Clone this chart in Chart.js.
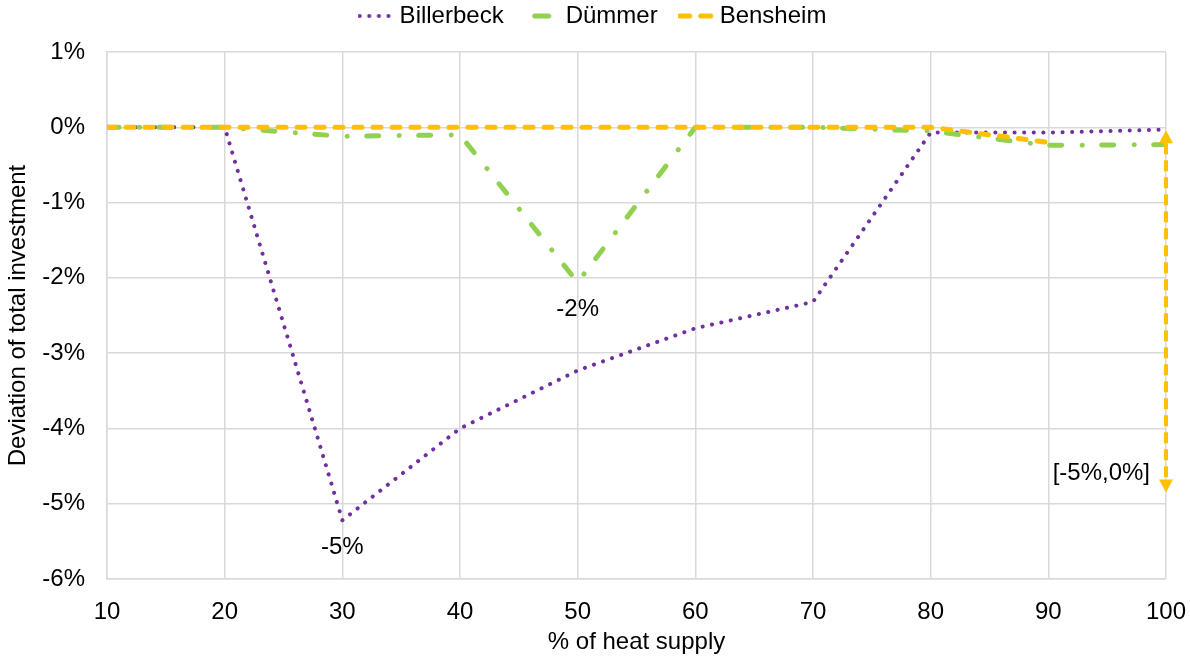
<!DOCTYPE html>
<html>
<head>
<meta charset="utf-8">
<script src="https://cdn.jsdelivr.net/npm/chart.js@4/dist/chart.umd.min.js"></script>
<style>
  html, body { margin: 0; padding: 0; background: #ffffff; }
  #wrap { position: relative; width: 1190px; height: 657px; }
</style>
</head>
<body>
<div id="wrap"><canvas id="c"></canvas></div>
<script>
// ---- data ----
const heatSupply = [10, 20, 30, 40, 50, 60, 70, 80, 90, 100];
const billerbeck = [0, 0, -5.22, -4.0, -3.23, -2.67, -2.32, -0.07, -0.07, -0.03];
const duemmer    = [0, 0, -0.12, -0.1, -2.06, 0, 0, -0.05, -0.24, -0.23];
const bensheim   = [0, 0, 0, 0, 0, 0, 0, 0, -0.2, null];
const seriesNames = ['Billerbeck', 'Dümmer', 'Bensheim'];
const yTicks = [1, 0, -1, -2, -3, -4, -5, -6];
const xTicks = [10, 20, 30, 40, 50, 60, 70, 80, 90, 100];
// annotations
const pointLabels = [ { x: 30, y: -5.22, text: '-5%' }, { x: 50, y: -2.06, text: '-2%' } ];
const rangeArrow = { x: 100, yFrom: -0.04, yTo: -4.85, text: '[-5%,0%]', textY: -4.6 };

const PURPLE = '#7030A0', GREEN = '#92D050', ORANGE = '#FFC000';
const FONT = '"Liberation Sans", Arial, sans-serif';
const FS = 24;

function toXY(arr) { return heatSupply.map((x, i) => ({ x: x, y: arr[i] })); }

function legendImg(color, dash, lw) {
  const c = document.createElement('canvas');
  c.width = 36; c.height = 8;
  const g = c.getContext('2d');
  g.strokeStyle = color; g.lineWidth = lw; g.lineCap = 'round';
  g.setLineDash(dash);
  g.beginPath(); g.moveTo(2, 4); g.lineTo(34, 4); g.stroke();
  return c;
}
const legDots = legendImg(PURPLE, [0.1, 9.5], 4);
const legDashDot = (function () {
  const c = document.createElement('canvas'); c.width = 36; c.height = 8;
  const g = c.getContext('2d'); g.strokeStyle = GREEN; g.lineWidth = 5; g.lineCap = 'round';
  g.beginPath(); g.moveTo(11, 4); g.lineTo(25, 4); g.stroke(); return c;
})();
const legDash = legendImg(ORANGE, [10, 11], 5);

const annotPlugin = {
  id: 'annot',
  afterDatasetsDraw(chart) {
    const ctx = chart.ctx, xs = chart.scales.x, ys = chart.scales.y;
    ctx.save();
    ctx.fillStyle = '#000'; ctx.font = FS + 'px ' + FONT;
    ctx.textAlign = 'center'; ctx.textBaseline = 'middle';
    pointLabels.forEach(p => {
      ctx.fillText(p.text, xs.getPixelForValue(p.x), ys.getPixelForValue(p.y) + 27);
    });
    // range arrow
    const ax = xs.getPixelForValue(rangeArrow.x);
    const yTop = ys.getPixelForValue(rangeArrow.yFrom);
    const yBot = ys.getPixelForValue(rangeArrow.yTo);
    const head = 13, hw = 7;
    ctx.strokeStyle = ORANGE; ctx.fillStyle = ORANGE; ctx.lineWidth = 4;
    ctx.setLineDash([11, 6]);
    ctx.beginPath(); ctx.moveTo(ax, yTop + head); ctx.lineTo(ax, yBot - head); ctx.stroke();
    ctx.setLineDash([]);
    ctx.beginPath(); ctx.moveTo(ax, yTop); ctx.lineTo(ax - hw, yTop + head); ctx.lineTo(ax + hw, yTop + head); ctx.closePath(); ctx.fill();
    ctx.beginPath(); ctx.moveTo(ax, yBot); ctx.lineTo(ax - hw, yBot - head); ctx.lineTo(ax + hw, yBot - head); ctx.closePath(); ctx.fill();
    ctx.fillStyle = '#000'; ctx.textAlign = 'right';
    ctx.fillText(rangeArrow.text, ax - 16, ys.getPixelForValue(rangeArrow.textY));
    ctx.restore();
  }
};

new Chart(document.getElementById('c'), {
  type: 'line',
  data: {
    datasets: [
      { label: seriesNames[0], data: toXY(billerbeck), borderColor: PURPLE, backgroundColor: PURPLE,
        borderWidth: 4, borderDash: [0.1, 9.5], borderCapStyle: 'round', pointRadius: 0, tension: 0, order: 3 },
      { label: seriesNames[1], data: toXY(duemmer), borderColor: GREEN, backgroundColor: GREEN,
        borderWidth: 5, borderDash: [12, 20.5, 0.1, 19.4], borderCapStyle: 'round', pointRadius: 0, tension: 0, order: 2 },
      { label: seriesNames[2], data: toXY(bensheim), borderColor: ORANGE, backgroundColor: ORANGE,
        borderWidth: 5, borderDash: [8, 11], borderCapStyle: 'round', pointRadius: 0, tension: 0, order: 1 }
    ]
  },
  options: {
    responsive: true, maintainAspectRatio: false, animation: false,
    layout: { padding: { left: 0, right: 0, top: -22, bottom: 0 } },
    font: { family: FONT },
    plugins: {
      tooltip: { enabled: false },
      subtitle: { display: true, text: '', position: 'top', weight: 500, font: { size: 10 }, padding: { top: 1, bottom: 1 } },
      legend: {
        position: 'top',
        labels: {
          font: { family: FONT, size: FS }, color: '#000', usePointStyle: true, pointStyleWidth: 24,
          padding: 26,
          generateLabels(chart) {
            const imgs = [legDots, legDashDot, legDash];
            return chart.data.datasets.map((d, i) => ({
              text: d.label, pointStyle: imgs[i], datasetIndex: i, fillStyle: d.borderColor,
              strokeStyle: d.borderColor, lineWidth: 0, hidden: false, fontColor: '#000'
            }));
          }
        }
      }
    },
    scales: {
      x: {
        type: 'linear', min: 10, max: 100,
        afterBuildTicks(s) { s.ticks = xTicks.map(v => ({ value: v })); },
        afterFit(s) { s.height = 78; s.paddingRight = 24; },
        grid: { color: '#d9d9d9', lineWidth: 1.5, drawTicks: false },
        border: { color: '#d9d9d9', width: 1.5 },
        ticks: { font: { family: FONT, size: FS }, color: '#000', padding: 19, maxRotation: 0 },
        title: { display: true, text: '% of heat supply', font: { family: FONT, size: FS }, color: '#000', padding: { top: 2, bottom: 0 } }
      },
      y: {
        type: 'linear', min: -6, max: 1,
        afterBuildTicks(s) { s.ticks = yTicks.map(v => ({ value: v })); },
        afterFit(s) { s.width = 107; },
        grid: { color: '#d9d9d9', lineWidth: 1.5, drawTicks: false },
        border: { color: '#d9d9d9', width: 1.5 },
        ticks: { font: { family: FONT, size: FS }, color: '#000', padding: 22, callback: v => v + '%' },
        title: { display: true, text: 'Deviation of total investment', font: { family: FONT, size: FS }, color: '#000', padding: { top: 4, bottom: 0 } }
      }
    }
  },
  plugins: [annotPlugin]
});
</script>
</body>
</html>
